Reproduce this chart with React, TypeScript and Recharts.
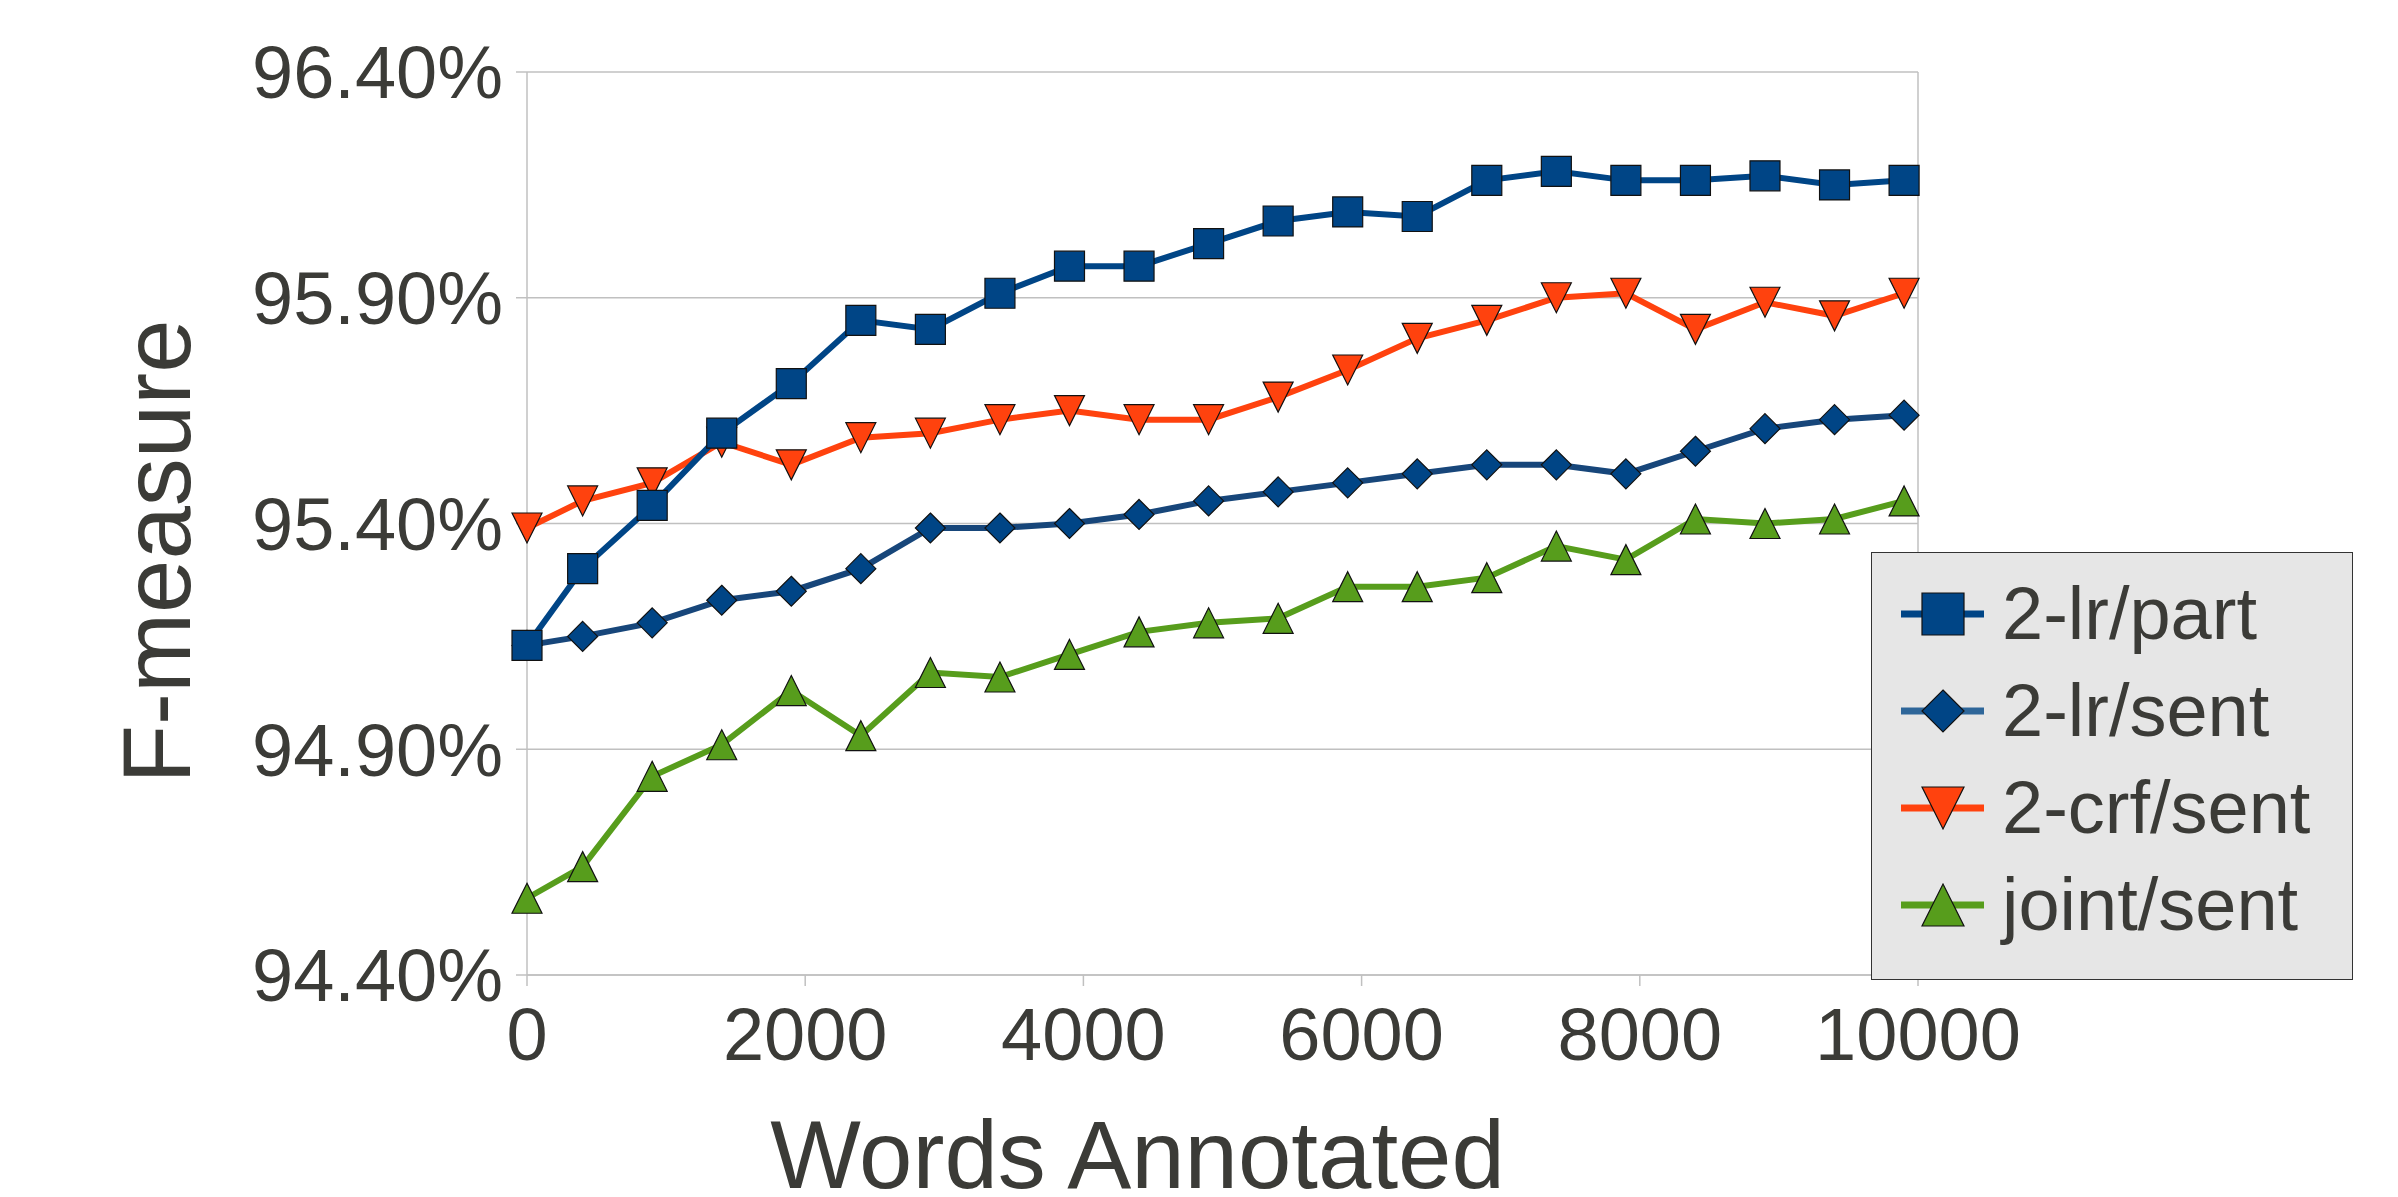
import { CartesianGrid, Label, Line, LineChart, ReferenceLine, XAxis, YAxis } from 'recharts';

const words = [0, 400, 900, 1400, 1900, 2400, 2900, 3400, 3900, 4400, 4900, 5400, 5900, 6400, 6900, 7400, 7900, 8400, 8900, 9400, 9900];
const lrPart = [95.13, 95.3, 95.44, 95.6, 95.71, 95.85, 95.83, 95.91, 95.97, 95.97, 96.02, 96.07, 96.09, 96.08, 96.16, 96.18, 96.16, 96.16, 96.17, 96.15, 96.16];
const lrSent = [95.13, 95.15, 95.18, 95.23, 95.25, 95.3, 95.39, 95.39, 95.4, 95.42, 95.45, 95.47, 95.49, 95.51, 95.53, 95.53, 95.51, 95.56, 95.61, 95.63, 95.64];
const crfSent = [95.39, 95.45, 95.49, 95.58, 95.53, 95.59, 95.6, 95.63, 95.65, 95.63, 95.63, 95.68, 95.74, 95.81, 95.85, 95.9, 95.91, 95.83, 95.89, 95.86, 95.91];
const jointSent = [94.57, 94.64, 94.84, 94.91, 95.03, 94.93, 95.07, 95.06, 95.11, 95.16, 95.18, 95.19, 95.26, 95.26, 95.28, 95.35, 95.32, 95.41, 95.4, 95.41, 95.45];

const xTicks = [0, 2000, 4000, 6000, 8000, 10000];
const yTicks = [94.4, 94.9, 95.4, 95.9, 96.4];

const legendItems = [
  { name: '2-lr/part', shape: 'square', color: '#004586', line: '#004586' },
  { name: '2-lr/sent', shape: 'diamond', color: '#004586', line: '#2e6699' },
  { name: '2-crf/sent', shape: 'down', color: '#ff420e', line: '#ff420e' },
  { name: 'joint/sent', shape: 'up', color: '#579d1c', line: '#579d1c' }
];

const data = words.map((w, i) => ({
  words: w,
  lrPart: lrPart[i],
  lrSent: lrSent[i],
  crfSent: crfSent[i],
  jointSent: jointSent[i]
}));

const TEXT = '#3b3b37';
const GRID = '#c0c0c0';
const FONT = '"Liberation Sans", Arial, sans-serif';

function markerPath(shape: string, cx: number, cy: number, r: number) {
  if (shape === 'square') return `M${cx - r},${cy - r}h${2 * r}v${2 * r}h${-2 * r}z`;
  if (shape === 'diamond') return `M${cx},${cy - r}L${cx + r},${cy}L${cx},${cy + r}L${cx - r},${cy}Z`;
  if (shape === 'down') return `M${cx - r},${cy - r}L${cx + r},${cy - r}L${cx},${cy + r}Z`;
  return `M${cx},${cy - r}L${cx + r},${cy + r}L${cx - r},${cy + r}Z`;
}

function makeDot(shape: string, fill: string) {
  return (props: any) => {
    const { cx, cy, index } = props;
    if (cx == null || cy == null) return <g key={`${shape}-${index}`} />;
    return (
      <path
        key={`${shape}-${index}`}
        d={markerPath(shape, cx, cy, 15)}
        fill={fill}
        stroke="#111"
        strokeWidth={1.2}
      />
    );
  };
}

function ChartLegend() {
  return (
    <div
      style={{
        position: 'absolute',
        left: 1871,
        top: 552,
        width: 482,
        height: 428,
        boxSizing: 'border-box',
        background: '#e6e6e6',
        border: '1.5px solid #333',
        paddingTop: 12
      }}
    >
      {legendItems.map((item) => (
        <div key={item.name} style={{ display: 'flex', alignItems: 'center', height: 97 }}>
          <svg width={130} height={60} style={{ flex: 'none' }}>
            <line x1={29} y1={30} x2={112} y2={30} stroke={item.line} strokeWidth={7} />
            <path d={markerPath(item.shape, 71, 30, 21)} fill={item.color} stroke="#111" strokeWidth={1.2} />
          </svg>
          <span style={{ fontSize: 74, color: TEXT, fontFamily: FONT, lineHeight: 1, whiteSpace: 'nowrap' }}>
            {item.name}
          </span>
        </div>
      ))}
    </div>
  );
}

export default function App() {
  return (
    <div style={{ position: 'absolute', left: 0, top: 0, width: 2398, height: 1197, background: '#fff', fontFamily: FONT }}>
      <LineChart width={2398} height={1197} data={data} margin={{ top: 72, right: 480, bottom: 0, left: 0 }}>
        <CartesianGrid vertical={false} stroke={GRID} strokeWidth={1.5} />
        <ReferenceLine x={10000} stroke={GRID} strokeWidth={1.5} />
        <XAxis
          dataKey="words"
          type="number"
          domain={[0, 10000]}
          ticks={xTicks}
          height={222}
          tickSize={11}
          tickMargin={21}
          tick={{ fill: TEXT, fontSize: 74, fontFamily: FONT }}
          axisLine={{ stroke: GRID, strokeWidth: 1.5 }}
          tickLine={{ stroke: GRID, strokeWidth: 1.5 }}
        >
          <Label
            value="Words Annotated"
            position="insideBottom"
            offset={9}
            dx={-85}
            style={{ fill: TEXT, fontSize: 96, fontFamily: FONT }}
          />
        </XAxis>
        <YAxis
          type="number"
          domain={[94.4, 96.4]}
          ticks={yTicks}
          allowDataOverflow
          width={527}
          tickSize={11}
          tickMargin={13}
          tickFormatter={(v: number) => `${v.toFixed(2)}%`}
          tick={{ fill: TEXT, fontSize: 74, fontFamily: FONT }}
          axisLine={{ stroke: GRID, strokeWidth: 1.5 }}
          tickLine={{ stroke: GRID, strokeWidth: 1.5 }}
        >
          <Label
            content={(props: any) => {
              const vb = props.viewBox || { y: 72, height: 903 };
              const cy = vb.y + vb.height / 2 + 28;
              return (
                <text
                  x={190}
                  y={cy}
                  transform={`rotate(-90, 190, ${cy})`}
                  textAnchor="middle"
                  fill={TEXT}
                  fontSize={96}
                  fontFamily={FONT}
                >
                  F-measure
                </text>
              );
            }}
          />
        </YAxis>
        <Line
          dataKey="jointSent"
          stroke="#579d1c"
          strokeWidth={6}
          dot={makeDot('up', '#579d1c')}
          isAnimationActive={false}
        />
        <Line
          dataKey="crfSent"
          stroke="#ff420e"
          strokeWidth={6}
          dot={makeDot('down', '#ff420e')}
          isAnimationActive={false}
        />
        <Line
          dataKey="lrSent"
          stroke="#17467a"
          strokeWidth={6}
          dot={makeDot('diamond', '#004586')}
          isAnimationActive={false}
        />
        <Line
          dataKey="lrPart"
          stroke="#004586"
          strokeWidth={6}
          dot={makeDot('square', '#004586')}
          isAnimationActive={false}
        />
      </LineChart>
      <ChartLegend />
    </div>
  );
}
